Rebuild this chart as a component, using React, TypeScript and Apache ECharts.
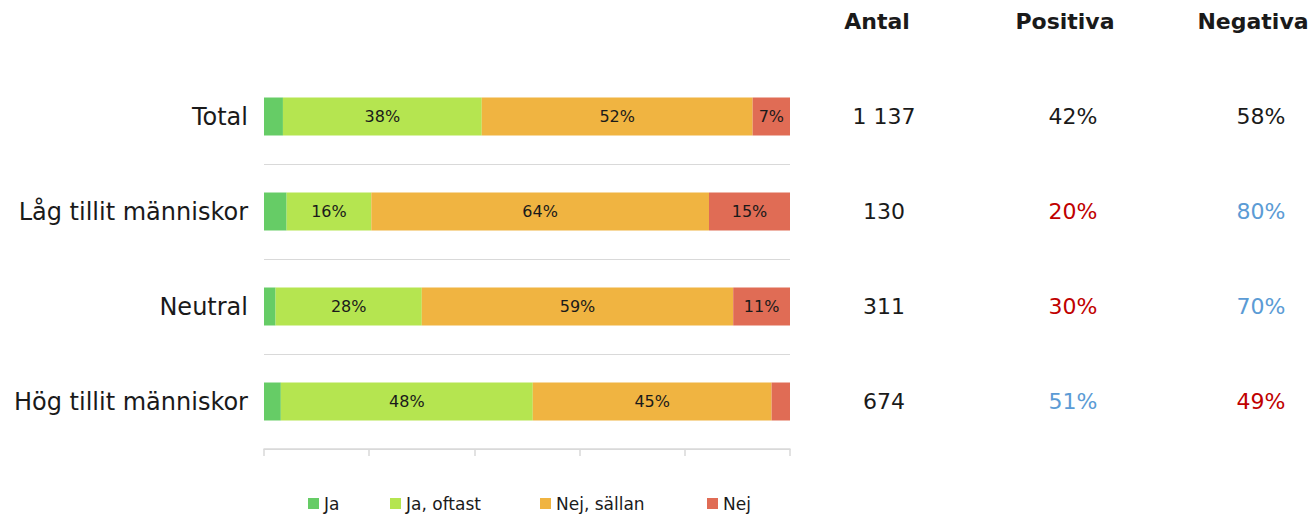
import React, { useEffect, useRef } from "react";
import * as echarts from "echarts";

const categories = ["Total", "Låg tillit människor", "Neutral", "Hög tillit människor"];
const seriesNames = ["Ja", "Ja, oftast", "Nej, sällan", "Nej"];
const ja = [3.6, 4.3, 2.2, 3.2];
const jaOftast = [37.8, 16.1, 27.8, 47.9];
const nejSallan = [51.5, 64.2, 59.2, 45.4];
const nej = [7.1, 15.4, 10.8, 3.5];
const antal = ["1 137", "130", "311", "674"];
const positiva = [42, 20, 30, 51];
const negativa = [58, 80, 70, 49];
const headers = ["Antal", "Positiva", "Negativa"];
const positivaColor = ["#1a1a1a", "#c00000", "#c00000", "#5b9bd5"];
const negativaColor = ["#1a1a1a", "#5b9bd5", "#5b9bd5", "#c00000"];
const colors = ["#66cc66", "#b5e550", "#f0b441", "#e06c55"];

const FONT = "DejaVu Sans";
const legendLefts = [308, 390, 540, 707];
const headerCenters = [877, 1065, 1253];

export default function App() {
  const ref = useRef<HTMLDivElement>(null);
  useEffect(() => {
    const chart = echarts.init(ref.current!, null, { renderer: "svg" });
    const values = [ja, jaOftast, nejSallan, nej];
    const rightAxis = (labels: string[], margin: number, colorArr?: string[]) => ({
      type: "category",
      data: labels,
      inverse: true,
      position: "right",
      gridIndex: 0,
      axisLine: { show: false },
      axisTick: { show: false },
      splitLine: { show: false },
      axisLabel: {
        show: true,
        align: "center",
        margin,
        fontFamily: FONT,
        fontSize: 22,
        color: colorArr ? (_v: any, i: number) => colorArr[i] : "#1a1a1a",
      },
    });
    chart.setOption({
      animation: false,
      textStyle: { fontFamily: FONT },
      grid: { left: 264, right: 526, top: 69, bottom: 66, containLabel: false },
      legend: seriesNames.map((name, i) => ({
        top: 495,
        left: legendLefts[i],
        padding: 0,
        itemWidth: 11,
        itemHeight: 11,
        itemGap: 0,
        icon: "rect",
        textStyle: { fontFamily: FONT, fontSize: 17, color: "#1a1a1a" },
        data: [name],
      })),
      xAxis: {
        type: "value",
        min: 0,
        max: 100,
        interval: 20,
        axisLabel: { show: false },
        splitLine: { show: false },
        axisLine: { show: true, lineStyle: { color: "#d9d9d9", width: 1.5 } },
        axisTick: { show: true, length: 7, lineStyle: { color: "#d9d9d9", width: 1.5 } },
      },
      yAxis: [
        {
          type: "category",
          data: categories,
          inverse: true,
          axisLine: { show: false },
          axisTick: { show: false },
          axisLabel: { fontFamily: FONT, fontSize: 24, color: "#1a1a1a", margin: 16 },
          splitLine: {
            show: true,
            interval: (i: number) => i !== 0,
            lineStyle: { color: "#d9d9d9", width: 1 },
          },
        },
        rightAxis(antal, 94),
        rightAxis(positiva.map((v) => v + "%"), 283, positivaColor),
        rightAxis(negativa.map((v) => v + "%"), 471, negativaColor),
      ],
      graphic: headers.map((h, i) => ({
        type: "text",
        x: headerCenters[i],
        y: 10,
        style: {
          text: h,
          font: `bold 22px "${FONT}"`,
          fill: "#1a1a1a",
          textAlign: "center",
        },
      })),
      series: seriesNames.map((name, si) => ({
        name,
        type: "bar",
        stack: "total",
        barCategoryGap: "60%",
        itemStyle: { color: colors[si] },
        label: {
          show: si !== 0,
          position: "inside",
          fontFamily: FONT,
          fontSize: 16,
          color: "#1a1a1a",
          formatter: (p: any) => (p.value >= 5 ? Math.round(p.value) + "%" : ""),
        },
        data: values[si],
      })),
    });
    return () => chart.dispose();
  }, []);
  return (
    <div
      ref={ref}
      style={{ position: "fixed", left: 0, top: 0, width: 1316, height: 515, background: "#fff" }}
    />
  );
}
